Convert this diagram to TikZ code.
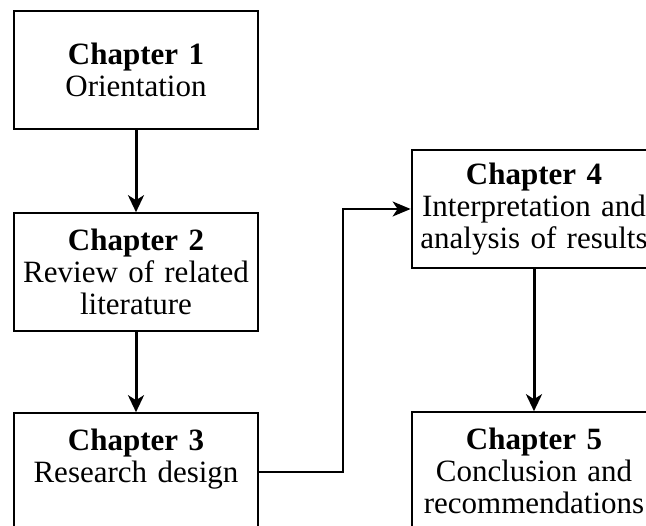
\documentclass[tikz,border=0pt]{standalone}
\usepackage{fontspec}
\setmainfont{Liberation Serif}
\usepackage{tikz}
\usetikzlibrary{arrows.meta, positioning}

\tikzset{
  chapbox/.style={draw=black, line width=1.6pt, minimum width=244pt, minimum height=118pt,
    text width=240pt, align=center, inner sep=0pt, font=\fontsize{31}{32}\selectfont},
  flowarrow/.style={line width=3pt, -{Stealth[length=17pt, width=16pt, inset=5pt]}},
  elbowarrow/.style={line width=1.7pt, -{Stealth[length=18pt, width=15pt, inset=5pt]}}
}

\begin{document}
\begin{tikzpicture}[x=1pt, y=1pt]
  \useasboundingbox (0,0) rectangle (646,-526);
  \clip (0,0) rectangle (646,-526);

  \node[chapbox] (ch1) at (136,-70) {\textbf{Chapter 1}\\Orientation};
  \node[chapbox] (ch2) at (136,-272) {\textbf{Chapter 2}\\Review of related\\literature};
  \node[chapbox] (ch3) at (136,-472) {\textbf{Chapter 3}\\Research design\\~};
  \node[chapbox, line width=2.8pt] (ch4) at (534,-209) {\textbf{Chapter 4}\\Interpretation and\\analysis of results};
  \node[chapbox] (ch5) at (534,-471) {\textbf{Chapter 5}\\Conclusion and\\recommendations};

  \draw[flowarrow] (ch1) -- (ch2);
  \draw[flowarrow] (ch2) -- (ch3);
  \draw[elbowarrow] (ch3.east) -- ++(84,0) |- (ch4.west);
  \draw[flowarrow] (ch4) -- (ch5);
\end{tikzpicture}
\end{document}
